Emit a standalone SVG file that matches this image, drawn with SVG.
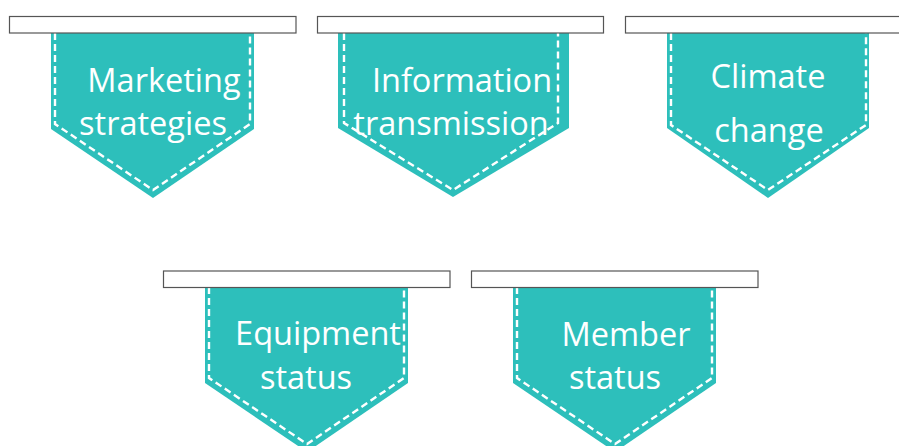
<svg xmlns="http://www.w3.org/2000/svg" width="899" height="446" viewBox="0 0 899 446">
  <style>
    .tab { fill: #2DBFBB; }
    .stitch { fill: none; stroke: #FFFFFF; stroke-width: 2.4; stroke-dasharray: 7 4; }
    .bar { fill: #FFFFFF; stroke: #555555; stroke-width: 1.2; }
    .label { font-family: "Open Sans", "Noto Sans", sans-serif; font-size: 32.5px; fill: #FFFFFF; text-anchor: middle; }
  </style>
  <rect width="899" height="446" fill="#FFFFFF"/>

  <g id="node-marketing">
    <polygon class="tab" points="51,33 254,33 254,129 153,198 51,129"/>
    <polyline class="stitch" points="55,33 55,124 153,190 250,124 250,33"/>
    <rect class="bar" x="9.5" y="16.5" width="286.5" height="16.5"/>
    <text class="label" x="164" y="92">Marketing</text>
    <text class="label" x="153" y="135">strategies</text>
  </g>

  <g id="node-information">
    <polygon class="tab" points="338,33 569,33 569,128 453,197 338,128"/>
    <polyline class="stitch" points="344,33 344,123 453,190 558,123 558,33"/>
    <rect class="bar" x="317.5" y="16.5" width="286" height="16.5"/>
    <text class="label" x="462" y="92">Information</text>
    <text class="label" x="451" y="135">transmission</text>
  </g>

  <g id="node-climate">
    <polygon class="tab" points="667,33 869,33 869,128 768,198 667,128"/>
    <polyline class="stitch" points="671,33 671,125 768,190 866,125 866,33"/>
    <rect class="bar" x="625.5" y="16.5" width="286.5" height="16.5"/>
    <text class="label" x="768" y="88">Climate</text>
    <text class="label" x="769" y="142">change</text>
  </g>

  <g id="node-equipment">
    <polygon class="tab" points="205,287 408,287 408,383 307,452 205,383"/>
    <polyline class="stitch" points="209,287 209,378 307,444 404,378 404,287"/>
    <rect class="bar" x="163.5" y="271" width="286.5" height="16.5"/>
    <text class="label" x="318" y="345">Equipment</text>
    <text class="label" x="306" y="389">status</text>
  </g>

  <g id="node-member">
    <polygon class="tab" points="513,287 716,287 716,383 615,452 513,383"/>
    <polyline class="stitch" points="517,287 517,378 615,444 712,378 712,287"/>
    <rect class="bar" x="471.5" y="271" width="286.5" height="16.5"/>
    <text class="label" x="626" y="346">Member</text>
    <text class="label" x="615" y="389">status</text>
  </g>

  <g id="connectors"/>
</svg>
